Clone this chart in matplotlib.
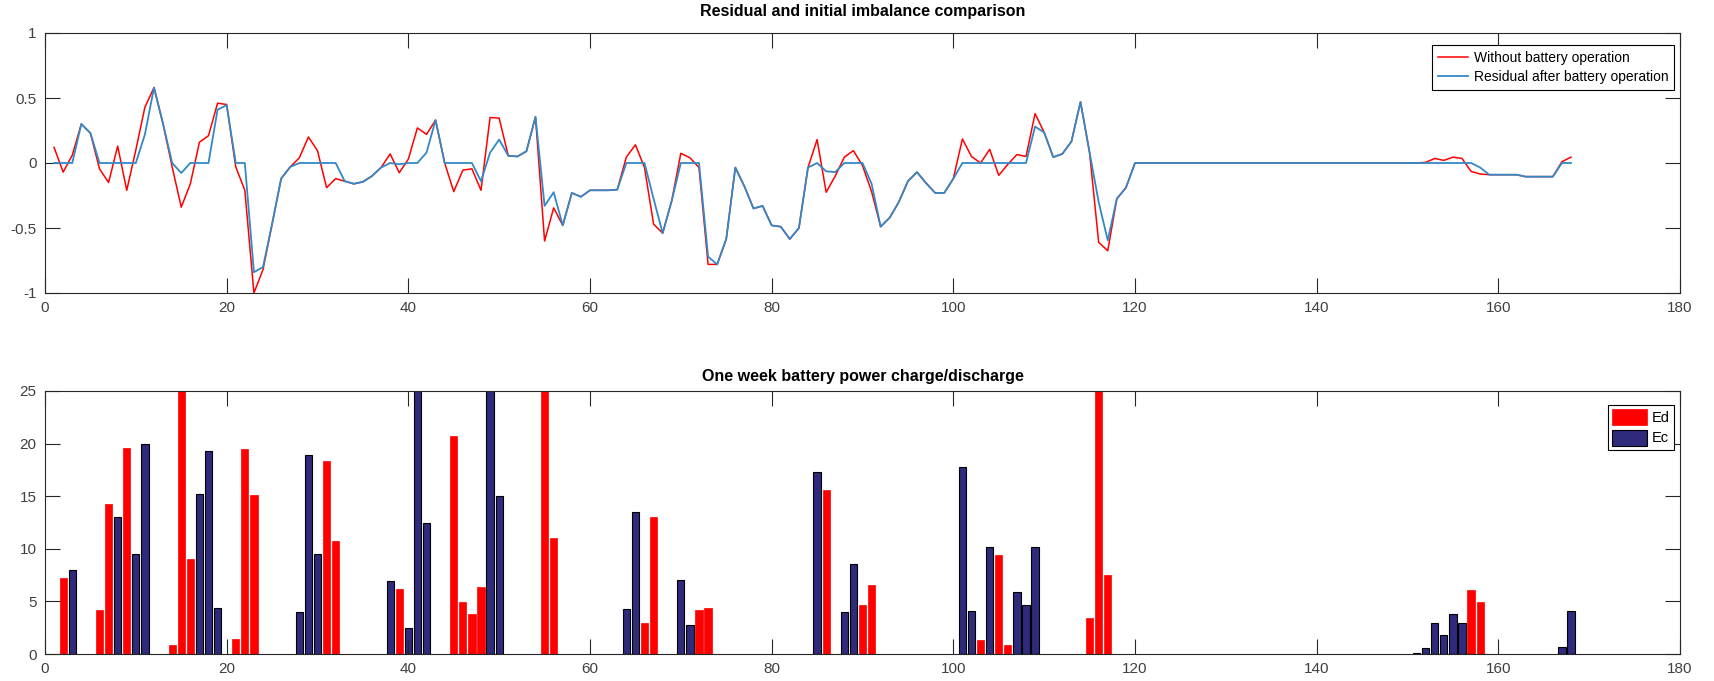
import matplotlib
matplotlib.use("Agg")
from matplotlib import pyplot as plt
import numpy as np

plt.rcParams['font.family'] = ['Liberation Sans', 'DejaVu Sans']
plt.rcParams['axes.unicode_minus'] = False

# hourly imbalance over one week (hours 1..168)
hours = np.arange(1, 169)

without_battery = [
    0.12, -0.07, 0.06, 0.30, 0.23, -0.045, -0.15, 0.13, -0.21, 0.10,
    0.43, 0.58, 0.30, -0.03, -0.34, -0.16, 0.16, 0.21, 0.46, 0.45,
    -0.03, -0.21, -1.0, -0.82, -0.47, -0.12, -0.03, 0.04, 0.20, 0.095,
    -0.19, -0.12, -0.14, -0.16, -0.145, -0.10, -0.035, 0.07, -0.075, 0.03,
    0.27, 0.22, 0.33, 0.0, -0.22, -0.055, -0.045, -0.21, 0.35, 0.345,
    0.056, 0.05, 0.09, 0.355, -0.60, -0.345, -0.48, -0.23, -0.26, -0.21,
    -0.21, -0.21, -0.205, 0.045, 0.14, -0.035, -0.47, -0.54, -0.29, 0.075,
    0.04, -0.035, -0.78, -0.78, -0.585, -0.035, -0.18, -0.35, -0.33, -0.48,
    -0.49, -0.585, -0.50, -0.035, 0.18, -0.225, -0.10, 0.045, 0.095, -0.02,
    -0.22, -0.49, -0.42, -0.30, -0.14, -0.07, -0.155, -0.23, -0.23, -0.12,
    0.185, 0.05, 0.0, 0.105, -0.095, -0.01, 0.065, 0.05, 0.38, 0.235,
    0.045, 0.07, 0.165, 0.47, 0.08, -0.61, -0.675, -0.275, -0.19, 0.0,
    0, 0, 0, 0, 0, 0, 0, 0, 0, 0,
    0, 0, 0, 0, 0, 0, 0, 0, 0, 0,
    0, 0, 0, 0, 0, 0, 0, 0, 0, 0,
    0, 0.005, 0.035, 0.02, 0.045, 0.035, -0.065, -0.085, -0.09, -0.09,
    -0.09, -0.09, -0.105, -0.105, -0.105, -0.105, 0.01, 0.045,
]

residual = [
    0, 0, 0, 0.30, 0.23, 0, 0, 0, 0, 0,
    0.22, 0.58, 0.30, 0, -0.077, 0, 0, 0, 0.41, 0.445,
    0, 0, -0.84, -0.80, -0.47, -0.12, -0.03, 0, 0, 0,
    0, 0, -0.14, -0.16, -0.145, -0.10, -0.035, 0, -0.01, 0,
    0, 0.08, 0.33, 0, 0, 0, 0, -0.14, 0.08, 0.18,
    0.056, 0.05, 0.09, 0.355, -0.33, -0.225, -0.48, -0.23, -0.26, -0.21,
    -0.21, -0.21, -0.205, 0, 0, 0, -0.275, -0.54, -0.29, 0,
    0, 0, -0.72, -0.78, -0.585, -0.035, -0.18, -0.35, -0.33, -0.48,
    -0.49, -0.585, -0.50, -0.035, 0.0, -0.064, -0.07, 0, 0, 0,
    -0.16, -0.49, -0.42, -0.30, -0.14, -0.07, -0.155, -0.23, -0.23, -0.12,
    0, 0, 0, 0, 0, 0, 0, 0, 0.28, 0.235,
    0.045, 0.07, 0.165, 0.47, 0.08, -0.30, -0.595, -0.275, -0.19, 0,
    0, 0, 0, 0, 0, 0, 0, 0, 0, 0,
    0, 0, 0, 0, 0, 0, 0, 0, 0, 0,
    0, 0, 0, 0, 0, 0, 0, 0, 0, 0,
    0, 0, 0, 0, 0, 0, 0, -0.035, -0.09, -0.09,
    -0.09, -0.09, -0.105, -0.105, -0.105, -0.105, 0, 0,
]

# battery discharge (Ed) and charge (Ec); bars above 25 are cut by the axis
ed_hours = [2, 6, 7, 9, 14, 15, 16, 21, 22, 23, 31, 32, 39, 45, 46, 47, 48,
            55, 56, 66, 67, 72, 73, 86, 90, 91, 103, 105, 106, 115, 116, 117,
            157, 158]
ed_values = [7.2, 4.2, 14.3, 19.6, 0.9, 28, 9.0, 1.4, 19.5, 15.1, 18.3, 10.7,
             6.2, 20.7, 4.9, 3.8, 6.4, 28, 11.0, 2.9, 13.0, 4.2, 4.4, 15.6,
             4.7, 6.6, 1.3, 9.4, 0.9, 3.4, 28, 7.5, 6.1, 4.9]
ec_hours = [3, 8, 10, 11, 17, 18, 19, 28, 29, 30, 38, 40, 41, 42, 49, 50,
            64, 65, 70, 71, 85, 88, 89, 101, 102, 104, 107, 108, 109,
            151, 152, 153, 154, 155, 156, 167, 168]
ec_values = [8.0, 13.0, 9.5, 20.0, 15.2, 19.3, 4.4, 4.0, 18.9, 9.5, 6.9, 2.5,
             28, 12.5, 28, 15.0, 4.3, 13.5, 7.0, 2.8, 17.3, 4.0, 8.6, 17.8,
             4.1, 10.2, 5.9, 4.7, 10.2, 0.1, 0.6, 2.9, 1.8, 3.8, 2.9, 0.7, 4.1]

W, H = 1715, 681
fig = plt.figure(figsize=(W / 100, H / 100), dpi=100)

left = 45 / W
width = (1680 - 45) / W
ax1 = fig.add_axes([left, 1 - 293 / H, width, (293 - 33) / H])
ax2 = fig.add_axes([left, 1 - 654 / H, width, (654 - 391) / H])

gray = '#262626'
for ax in (ax1, ax2):
    ax.set_xlim(0, 180)
    ax.set_xticks(range(0, 181, 20))
    ax.tick_params(direction='in', length=11, width=0.8, top=True, right=True,
                   labelsize=11, colors=gray, labelcolor='#404040', pad=6)
    for s in ax.spines.values():
        s.set_color(gray)
        s.set_linewidth(0.8)

ax1.plot(hours, without_battery, color='#ff0000', lw=1.1,
         label='Without battery operation')
ax1.plot(hours, residual, color='#3189c8', lw=1.3,
         label='Residual after battery operation')
ax1.set_ylim(-1, 1)
ax1.set_yticks([-1, -0.5, 0, 0.5, 1])
ax1.set_yticklabels(['-1', '-0.5', '0', '0.5', '1'])
ax1.set_title('Residual and initial imbalance comparison', fontsize=11.5,
              fontweight='bold', pad=12)
leg1 = ax1.legend(loc='upper right', bbox_to_anchor=(1 - 6 / 1635, 1 - 12 / 260),
                  borderaxespad=0, fancybox=False, framealpha=1,
                  edgecolor='black', fontsize=10, handlelength=2.2,
                  borderpad=0.4, labelspacing=0.4, handletextpad=0.4)
leg1.get_frame().set_linewidth(0.8)

ax2.bar(ed_hours, ed_values, width=0.8, color='#ff0000', edgecolor='#ff0000',
        linewidth=0.5, label='Ed')
ax2.bar(ec_hours, ec_values, width=0.8, color='#2e2a7c', edgecolor='black',
        linewidth=0.8, label='Ec')
ax2.set_ylim(0, 25)
ax2.set_yticks(range(0, 26, 5))
ax2.set_title('One week battery power charge/discharge', fontsize=11.5,
              fontweight='bold', pad=7)
leg2 = ax2.legend(loc='upper right', bbox_to_anchor=(1 - 6 / 1635, 1 - 14 / 263),
                  borderaxespad=0, fancybox=False, framealpha=1,
                  edgecolor='black', fontsize=10.5, handlelength=2.4,
                  handleheight=1.3, borderpad=0.3, labelspacing=0.3,
                  handletextpad=0.3)
leg2.get_frame().set_linewidth(0.8)

fig.savefig('out.png', dpi=100)
